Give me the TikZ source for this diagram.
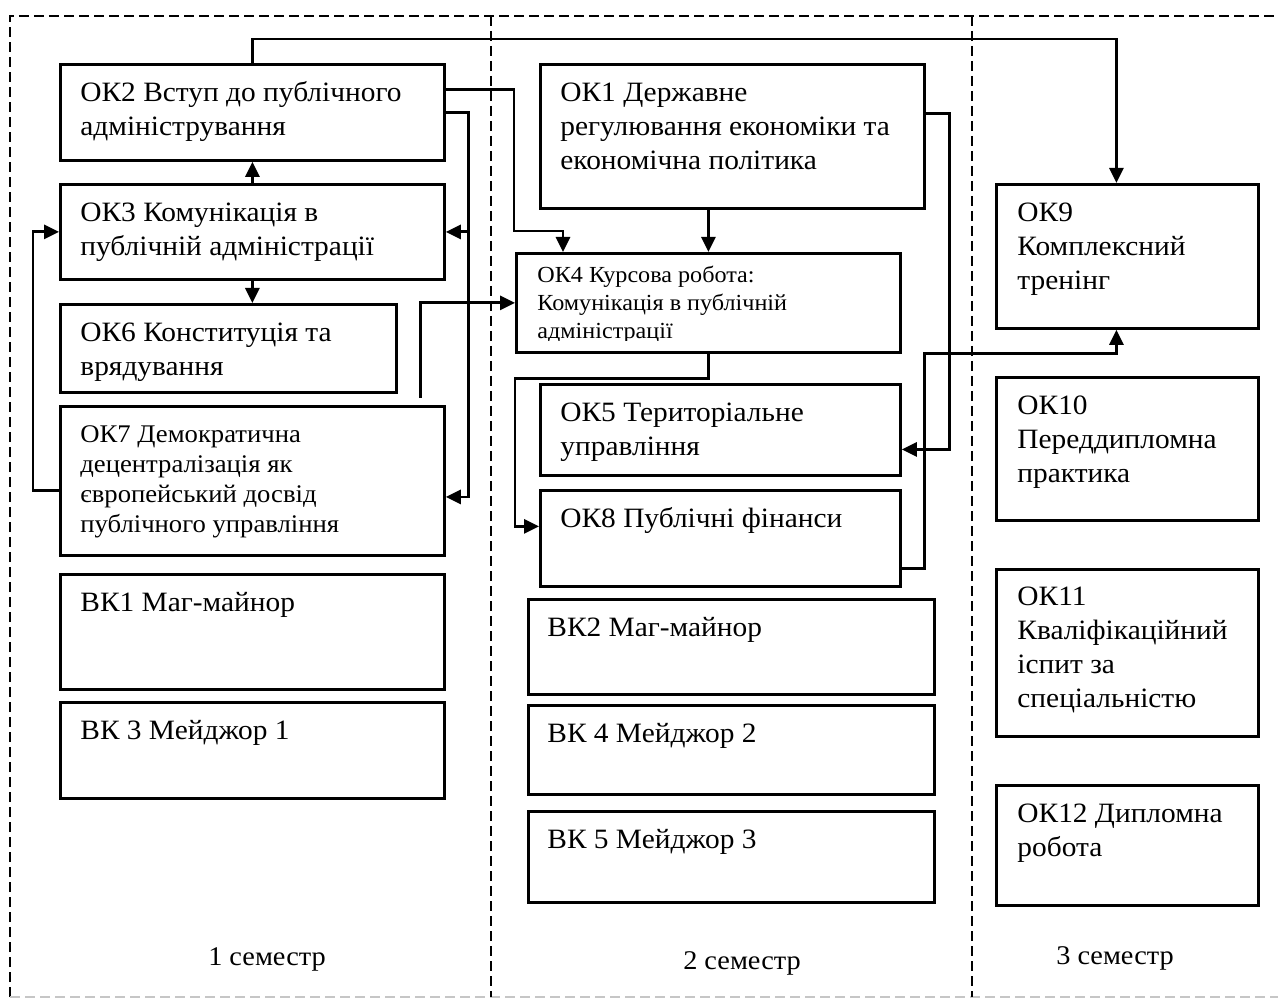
\documentclass[tikz,border=0pt]{standalone}
\usepackage{fontspec}
\setmainfont{Liberation Serif}[FakeStretch=1.05]
\usetikzlibrary{arrows.meta,calc}

\tikzset{
  kbox/.style={draw, line width=1.4pt, inner sep=0pt, anchor=north west},
  boxsize/.style 2 args={minimum width=#1*0.5pt, minimum height=#2*0.5pt},
  ktext/.style={anchor=north west, inner sep=0pt, align=left, font=\fontsize{14}{17}\selectfont},
  conn/.style={line width=1.4pt, -{Triangle[length=7.5pt,width=7pt]}},
  frame/.style={line width=1.2pt, dash pattern=on 5pt off 2.5pt},
  semlabel/.style={anchor=base, font=\fontsize{13.5}{15}\selectfont}
}

\begin{document}
\begin{tikzpicture}[x=0.5pt, y=-0.5pt]
\useasboundingbox (0,0) rectangle (1278,999);

% semester columns
\draw[frame] (10,997) |- (1278,16);
\draw[frame, gray!45] (10,997) -- (1278,997);
\draw[frame] (491,16) -- (491,997);
\draw[frame] (972,16) -- (972,997);

% 1 semester
\node[kbox, boxsize={384}{96}] (ok2) at (59,63) {};
\node[ktext] (ok2t) at ($(ok2.north west)+(21,14)$) {\strut ОК2 Вступ до публічного\\адміністрування};
\node[kbox, boxsize={384}{95}] (ok3) at (59,183) {};
\node[ktext] (ok3t) at ($(ok3.north west)+(21,14)$) {\strut ОК3 Комунікація в\\публічній адміністрації};
\node[kbox, boxsize={336}{88}] (ok6) at (59,303) {};
\node[ktext] (ok6t) at ($(ok6.north west)+(21,14)$) {\strut ОК6 Конституція та\\врядування};
\node[kbox, boxsize={384}{149}] (ok7) at (59,405) {};
\node[ktext, font=\fontsize{12.7}{15}\selectfont] (ok7t) at ($(ok7.north west)+(21,16)$) {\strut ОК7 Демократична\\децентралізація як\\європейський досвід\\публічного управління};
\node[kbox, boxsize={384}{115}] (vk1) at (59,573) {};
\node[ktext] (vk1t) at ($(vk1.north west)+(21,14)$) {\strut ВК1 Маг-майнор};
\node[kbox, boxsize={384}{96}] (vk3) at (59,701) {};
\node[ktext] (vk3t) at ($(vk3.north west)+(21,14)$) {\strut ВК 3 Мейджор 1};

% 2 semester
\node[kbox, boxsize={384}{144}] (ok1) at (539,63) {};
\node[ktext] (ok1t) at ($(ok1.north west)+(21,14)$) {\strut ОК1 Державне\\регулювання економіки та\\економічна політика};
\node[kbox, boxsize={384}{99}] (ok4) at (515,252) {};
\begin{scope}
\clip ($(ok4.north west)$) rectangle ($(ok4.south east)+(0,-13)$);
\node[ktext, font=\fontsize{11.5}{14}\selectfont] (ok4t) at ($(ok4.north west)+(22,11)$) {\strut ОК4 Курсова робота:\\Комунікація в публічній\\адміністрації};
\end{scope}
\node[kbox, boxsize={360}{91}] (ok5) at (539,383) {};
\node[ktext] (ok5t) at ($(ok5.north west)+(21,14)$) {\strut ОК5 Територіальне\\управління};
\node[kbox, boxsize={360}{96}] (ok8) at (539,489) {};
\node[ktext] (ok8t) at ($(ok8.north west)+(21,14)$) {\strut ОК8 Публічні фінанси};
\node[kbox, boxsize={406}{95}] (vk2) at (527,598) {};
\node[ktext] (vk2t) at ($(vk2.north west)+(20,14)$) {\strut ВК2 Маг-майнор};
\node[kbox, boxsize={406}{89}] (vk4) at (527,704) {};
\node[ktext] (vk4t) at ($(vk4.north west)+(20,14)$) {\strut ВК 4 Мейджор 2};
\node[kbox, boxsize={406}{91}] (vk5) at (527,810) {};
\node[ktext] (vk5t) at ($(vk5.north west)+(20,14)$) {\strut ВК 5 Мейджор 3};

% 3 semester
\node[kbox, boxsize={262}{144}] (ok9) at (995,183) {};
\node[ktext] (ok9t) at ($(ok9.north west)+(22,14)$) {\strut ОК9\\Комплексний\\тренінг};
\node[kbox, boxsize={262}{143}] (ok10) at (995,376) {};
\node[ktext] (ok10t) at ($(ok10.north west)+(22,14)$) {\strut ОК10\\Переддипломна\\практика};
\node[kbox, boxsize={262}{167}] (ok11) at (995,568) {};
\node[ktext] (ok11t) at ($(ok11.north west)+(22,13)$) {\strut ОК11\\Кваліфікаційний\\іспит за\\спеціальністю};
\node[kbox, boxsize={262}{120}] (ok12) at (995,784) {};
\node[ktext] (ok12t) at ($(ok12.north west)+(22,14)$) {\strut ОК12 Дипломна\\робота};

\node[semlabel] (s1) at (267,965) {1 семестр};
\node[semlabel] (s2) at (742,969) {2 семестр};
\node[semlabel] (s3) at (1115,964) {3 семестр};

% links
\draw[conn] (ok2.north) -- ++(0,-24) -| ($(ok9.north)+(-11,0)$);
\draw[conn] (ok3.north) -- (ok2.south);
\draw[conn] (ok3.south) -- (ok3.south |- ok6.north);
\draw[conn] ($(ok2.east)+(0,-23)$) -| ($(ok4.north west)+(-1,-21)$) -| ($(ok4.north west)+(48,0)$);
\draw[conn] (ok2.east) -- ++(23,0) |- ($(ok7.east)+(0,16)$);
\draw[conn] ($(ok2.east)+(23,0)$) |- (ok3.east);
\draw[conn] ($(ok7.west)+(0,9.5)$) -- ++(-26,0) |- (ok3.west);
\draw[conn] ($(ok7.north east)+(-25,-7)$) |- (ok4.west);
\draw[conn] (ok1.south -| ok4.north) -- (ok4.north);
\draw[conn] ($(ok1.east)+(0,-23)$) -- ++(24,0) |- ($(ok5.east)+(0,19.5)$);
\draw[conn] (ok4.south) |- ($(ok4.south west)+(0,25)$) |- ($(ok8.west)+(0,-12)$);
\draw[conn] ($(ok8.east)+(0,30)$) -- ++(23,0) |- ($(ok9.south)+(-11,24)$) -- ($(ok9.south)+(-11,0)$);
\end{tikzpicture}
\end{document}
